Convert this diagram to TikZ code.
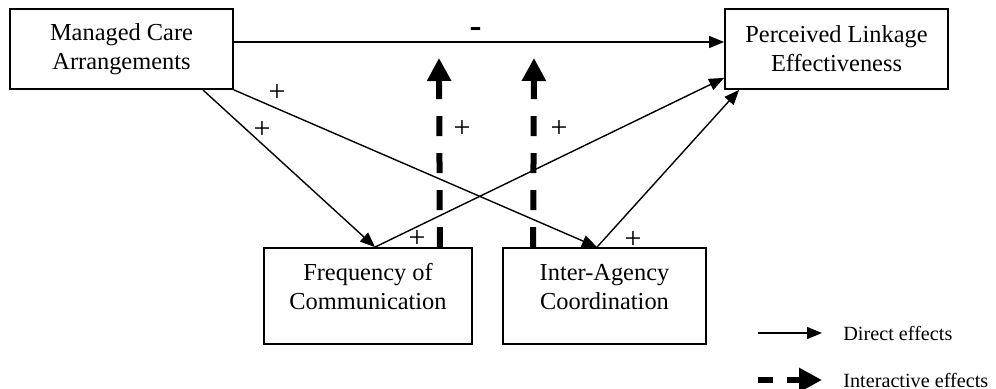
\documentclass[tikz,border=0pt]{standalone}
\usepackage{fontspec}
\setmainfont{Liberation Serif}
\usetikzlibrary{positioning,arrows.meta}
\tikzset{
	box/.style={draw, line width=0.9pt, align=center, inner sep=0pt, font=\fontsize{12.2}{14.5}\selectfont}, % the four variable boxes
	direct/.style={-{Triangle[length=7.5pt,width=6pt]}, line width=0.7pt}, % thin arrows
	interactive/.style={-{Triangle[length=11.5pt,width=11.5pt]}, line width=3pt, dash pattern=on 10pt off 8.5pt}, % thick dashed arrows
	sign/.style={inner sep=0pt, font=\fontsize{15}{15}\selectfont}, % + and - signs
	legend text/.style={inner sep=0pt, anchor=west, font=\fontsize{10.1}{12}\selectfont},
}

\begin{document}
\begin{tikzpicture}[x=0.5pt, y=-0.5pt]
	\useasboundingbox (0,0) rectangle (996,389);

	% boxes
	\node[box, minimum width=111.5pt, minimum height=40pt] (mca) at (121.5,49) {Managed Care\\Arrangements};
	\node[box, minimum width=111.5pt, minimum height=40pt] (ple) at (836.5,49) {Perceived Linkage\\Effectiveness};
	\node[box, minimum width=104pt, minimum height=48pt] (freq) at (368,296) {Frequency of\\Communication\\[-5pt]\mbox{}};
	\node[box, minimum width=101.5pt, minimum height=48pt] (iac) at (604.5,296) {Inter-Agency\\Coordination\\[-5pt]\mbox{}};

	% direct effects
	\draw[direct] ([yshift=3.5pt]mca.east) -- ([yshift=3.5pt]ple.west);
	\draw[direct] ([xshift=-15.5pt]mca.south east) -- ([xshift=3.5pt]freq.north);
	\draw[direct] (mca.south east) -- ([xshift=-3.75pt]iac.north);
	\draw[direct] ([xshift=3.5pt]freq.north) -- ([yshift=6pt]ple.south west);
	\draw[direct] ([xshift=-3.75pt]iac.north) -- ([xshift=7.5pt]ple.south west);

	% interactive effects
	\coordinate (up1) at (439,58);
	\coordinate (up2) at (534,58);
	\draw[interactive] ([xshift=-16.5pt]freq.north east) -- (up1);
	\draw[interactive] ([xshift=15.5pt]iac.north west) -- (up2);

	% signs
	\node[sign, font=\fontsize{18}{18}\bfseries] (s0) at (475.5,33) {-};
	\node[sign] (s1) at (277,93) {+};
	\node[sign] (s2) at (262,130) {+};
	\node[sign] (s3) at (462,129) {+};
	\node[sign] (s4) at (559,129) {+};
	\node[sign] (s5) at (417,239) {+};
	\node[sign] (s6) at (633,240) {+};

	% legend
	\node[legend text] (ldirect) at (843,333) {Direct effects};
	\node[legend text] (linter) at (843,380) {Interactive effects};
	\coordinate (l1) at (758,333);
	\coordinate (l2) at (758,380);
	\draw[direct, shorten >=10.5pt] (l1) -- (ldirect.west);
	\draw[interactive, dash pattern=on 7.5pt off 7pt, shorten >=10.5pt] (l2) -- (linter.west);
\end{tikzpicture}
\end{document}
